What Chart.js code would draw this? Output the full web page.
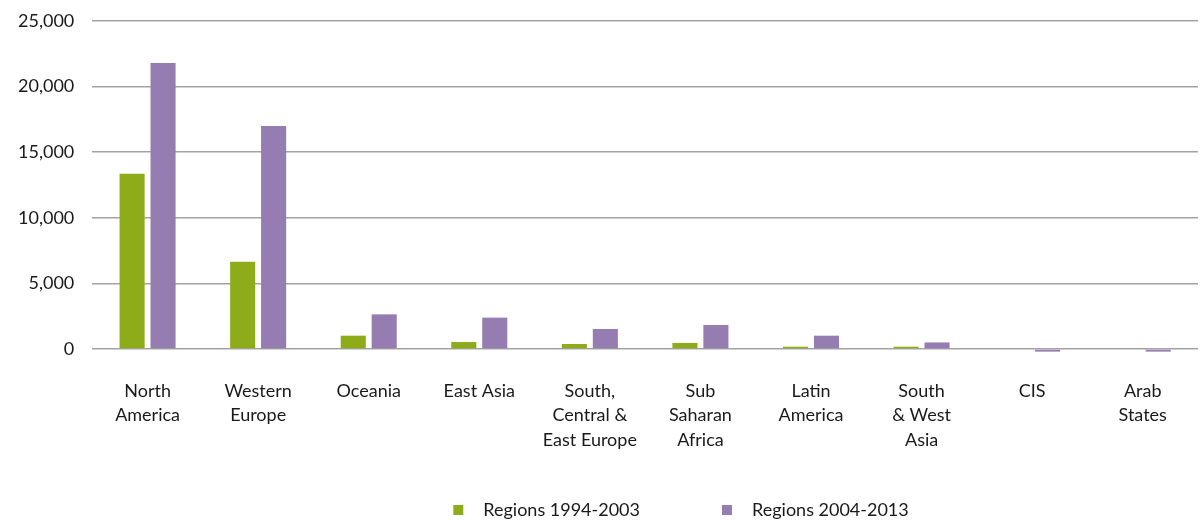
<!DOCTYPE html>
<html>
<head>
<meta charset="utf-8">
<script src="https://cdn.jsdelivr.net/npm/chart.js@4"></script>
<style>
    html, body { margin: 0; padding: 0; background: #fff; }
    #wrap { width: 1204px; height: 521px; }
</style>
</head>
<body>
<div id="wrap"><canvas id="regionsChart"></canvas></div>
<script>
const regions = [
    ['North', 'America'],
    ['Western', 'Europe'],
    'Oceania',
    'East Asia',
    ['South,', 'Central &', 'East Europe'],
    ['Sub', 'Saharan', 'Africa'],
    ['Latin', 'America'],
    ['South', '& West', 'Asia'],
    'CIS',
    ['Arab', 'States']
];
const period1 = [13350, 6650, 1015, 530, 380, 460, 175, 175, 60, 0];
const period2 = [21800, 17000, 2640, 2390, 1525, 1830, 1015, 500, -200, -200];
const seriesNames = ['Regions 1994-2003', 'Regions 2004-2013'];
const green = '#8eab19';
const purple = '#957cb1';

// legend swatch: 10px square sitting near the right end of a wide transparent canvas,
// so the gap before each item is big and the gap before its text stays small
const SWATCH_W = 101;
const swatch = (color) => {
    const c = document.createElement('canvas');
    c.width = SWATCH_W;
    c.height = 10;
    const g = c.getContext('2d');
    g.fillStyle = color;
    g.fillRect(80, 0, 10, 10);
    return c;
};

// nudge the legend right and down
const legendShift = {
    id: 'legendShift',
    afterLayout(chart) {
        const lg = chart.legend;
        lg.left += 42;
        lg.right += 42;
        lg.top += 8;
        lg.bottom += 8;
    }
};

const font = { family: "Lato, 'Open Sans', sans-serif", size: 18 };

new Chart(document.getElementById('regionsChart').getContext('2d'), {
    type: 'bar',
    data: {
        labels: regions,
        datasets: [{
            label: seriesNames[0],
            data: period1,
            backgroundColor: green,
            pointStyle: swatch(green),
            clip: false
        }, {
            label: seriesNames[1],
            data: period2,
            backgroundColor: purple,
            pointStyle: swatch(purple),
            clip: false
        }]
    },
    options: {
        responsive: true,
        maintainAspectRatio: false,
        animation: false,
        datasets: {
            bar: {
                categoryPercentage: 0.56,
                barPercentage: 0.81
            }
        },
        layout: {
            padding: { top: 0, right: 6, left: 0, bottom: 0 }
        },
        scales: {
            x: {
                grid: { display: false, drawTicks: false },
                border: { display: false },
                ticks: {
                    color: '#1a1a1a',
                    font: { ...font, lineHeight: 1.35 },
                    padding: 30,
                    maxRotation: 0,
                    autoSkip: false
                },
                afterFit: (axis) => { axis.height = 142; }
            },
            y: {
                min: 0,
                max: 25000,
                grid: { color: '#a3a3a3', lineWidth: 1.5, drawTicks: false },
                border: { display: false },
                ticks: {
                    stepSize: 5000,
                    color: '#1a1a1a',
                    font: font,
                    padding: 18,
                    callback: (v) => v.toLocaleString('en-US')
                },
                // keep the top gridline close to the canvas edge
                afterFit: (axis) => { axis.paddingTop = 21; }
            }
        },
        plugins: {
            legend: {
                position: 'bottom',
                labels: {
                    usePointStyle: true,
                    pointStyleWidth: SWATCH_W,
                    boxHeight: 10,
                    padding: 2,
                    color: '#1a1a1a',
                    font: font
                }
            },
            tooltip: { enabled: false }
        }
    },
    plugins: [legendShift]
});
</script>
</body>
</html>
